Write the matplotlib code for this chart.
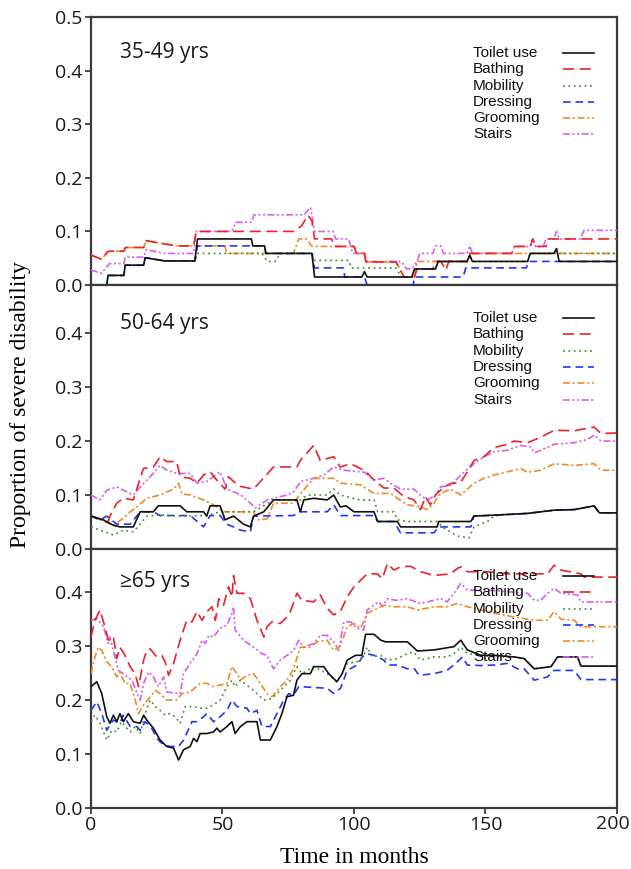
import numpy as np
import matplotlib
matplotlib.use('Agg')
import matplotlib.pyplot as plt

#########################
# DATA: (month, proportion)
#########################

# 35-49 yrs
toilet_35 = [(0,0),(6,0),(6.5,0.018),(12.5,0.018),(13,0.037),(20,0.037),(20.6,0.051),(28,0.045),(39.5,0.045),
             (40.5,0.086),(61,0.086),(61.5,0.073),(66,0.073),(66.5,0.059),(84,0.059),(85,0.015),(103,0.015),
             (104,0.025),(105,0.015),(122,0.015),(123,0.030),(131,0.030),(132,0.044),(143,0.044),(144,0.056),
             (145,0.044),(166,0.044),(167,0.059),(176,0.059),(177,0.068),(178,0.044),(200,0.044)]
bathing_35 = [(0,0.056),(4,0.048),(6.5,0.063),(12.5,0.063),(13,0.070),(20,0.070),(21,0.083),(25,0.079),(33,0.073),
              (39,0.073),(40,0.100),(77,0.100),(80,0.110),(82.5,0.130),(84,0.120),(85,0.086),(91.5,0.086),
              (92.5,0.072),(100,0.072),(101,0.059),(104,0.059),(104.5,0.043),(116,0.043),(119,0.015),(123,0.015),
              (124,0.030),(130,0.030),(131,0.044),(133,0.044),(135,0.028),(136,0.044),(143,0.044),(144,0.059),
              (160,0.059),(161,0.072),(167,0.072),(168,0.086),(169,0.072),(173,0.072),(174,0.086),(200,0.086)]
mobility_35 = [(0,0),(6,0),(6.5,0.018),(12.5,0.018),(13,0.037),(20,0.037),(20.6,0.051),(28,0.045),(39.5,0.045),
               (40.5,0.059),(65,0.059),(67,0.044),(70,0.044),(72,0.059),(84,0.059),(85,0.046),(98,0.046),
               (99,0.032),(116,0.032),(118,0.015),(122,0.015),(123,0.030),(131,0.030),(132,0.044),(143,0.044),
               (144,0.056),(145,0.044),(166,0.044),(167,0.059),(176,0.059),(177,0.068),(178,0.059),(200,0.059)]
dressing_35 = [(0,0),(6,0),(6.5,0.018),(12.5,0.018),(13,0.037),(20,0.037),(20.6,0.051),(28,0.045),(39.5,0.045),
               (40.5,0.073),(66,0.073),(66.5,0.059),(84,0.059),(85,0.032),(96,0.032),(96.5,0.015),(104,0.015),
               (105,0),(122.5,0),(123,0.015),(141.5,0.015),(142.5,0.032),(165.5,0.032),(166.5,0.044),(200,0.044)]
grooming_35 = [(0,0.056),(4,0.048),(6.5,0.063),(12.5,0.063),(13,0.070),(20,0.070),(21,0.083),(25,0.079),(33,0.073),
               (51,0.073),(51.5,0.059),(77,0.059),(79,0.086),(82,0.086),(84,0.072),(100,0.072),(101,0.059),
               (104,0.059),(104.5,0.043),(116,0.043),(119,0.015),(123,0.015),(124,0.044),(143,0.044),(145,0.059),
               (200,0.059)]
stairs_35 = [(0,0.028),(4,0.022),(7,0.040),(12.5,0.040),(13,0.052),(20,0.052),(21,0.066),(28,0.059),(39,0.059),
             (40,0.100),(53.5,0.100),(55,0.117),(61,0.117),(62,0.131),(81,0.131),(83.5,0.145),(85,0.100),(92,0.100),
             (93,0.086),(98,0.086),(99.5,0.059),(104,0.059),(105,0.044),(118,0.044),(120,0.030),(122,0.030),
             (124,0.044),(125,0.059),(130,0.059),(131,0.073),(133,0.073),(134,0.059),(143,0.059),(144,0.073),
             (145,0.059),(160,0.059),(161,0.072),(167,0.072),(168,0.086),(169,0.072),(172,0.072),(173,0.086),
             (176,0.086),(177,0.100),(178,0.086),(186,0.086),(187.5,0.102),(200,0.102)]

# 50-64 yrs
toilet_50 = [(0,0.061),(4.7,0.054),(8.5,0.044),(11,0.041),(16.1,0.041),(18.7,0.069),(23.7,0.069),(25.6,0.080),
             (33.9,0.080),(36.4,0.069),(42.8,0.069),(44,0.061),(45.3,0.080),(49.1,0.080),(51,0.054),(54.2,0.061),
             (58,0.046),(60.6,0.041),(61.8,0.061),(65.7,0.069),(69.4,0.091),(78.3,0.091),(79.6,0.069),(80.9,0.091),
             (84.7,0.094),(89.8,0.091),(92.3,0.100),(94.8,0.078),(97,0.080),(100,0.069),(107.6,0.069),(109,0.051),
             (116.5,0.051),(117.7,0.041),(131.6,0.041),(132.2,0.051),(144.4,0.051),(145.6,0.061),(158.3,0.064),
             (166,0.066),(176.1,0.072),(183.7,0.073),(191.3,0.080),(193.3,0.067),(200,0.067)]
bathing_50 = [(0,0.061),(4.7,0.054),(6.5,0.050),(7.2,0.061),(9.8,0.085),(12.3,0.094),(16.1,0.091),(19.9,0.149),
              (23.7,0.152),(26.3,0.171),(28.8,0.162),(32.6,0.162),(33.9,0.134),(37.7,0.131),(40.3,0.122),
              (42.8,0.137),(45.3,0.143),(47.8,0.128),(51,0.111),(52.3,0.134),(54.2,0.125),(56.8,0.116),(61.8,0.111),
              (69.4,0.152),(78.3,0.152),(79.6,0.164),(84.7,0.192),(87.2,0.164),(92.3,0.171),(94.8,0.152),
              (98.7,0.158),(102.5,0.149),(104,0.146),(107.6,0.128),(111.4,0.113),(115.2,0.113),(119,0.097),
              (122.8,0.091),(125.3,0.073),(127.2,0.097),(129,0.082),(131,0.100),(134.2,0.115),(136.7,0.121),
              (140.6,0.124),(143.1,0.143),(145.6,0.164),(149.4,0.171),(153.3,0.188),(158.3,0.194),(160.9,0.200),
              (166,0.197),(171,0.207),(176.1,0.220),(183.7,0.219),(191.3,0.226),(193.9,0.214),(200,0.215)]
mobility_50 = [(0,0.041),(3.4,0.035),(8.5,0.026),(12.3,0.035),(16.1,0.032),(18.7,0.046),(21.2,0.061),(26.3,0.063),
               (33.9,0.061),(44,0.062),(49.1,0.069),(61.8,0.069),(69.4,0.091),(79.6,0.091),(82.2,0.100),(89.8,0.100),
               (92.3,0.111),(94.8,0.100),(102.4,0.091),(107.6,0.091),(109,0.069),(115.2,0.069),(116.5,0.054),
               (120.3,0.051),(131.6,0.051),(134.2,0.039),(139.3,0.024),(143.8,0.021),(145.6,0.041),(150.7,0.051),
               (153.3,0.061),(158.3,0.064),(166,0.066),(176.1,0.072),(183.7,0.073),(191.3,0.080),(193.3,0.067),
               (200,0.067)]
dressing_50 = [(0,0.061),(3.4,0.054),(6,0.061),(9.8,0.046),(14.9,0.046),(17.4,0.061),(18.7,0.069),(23.7,0.069),
               (26.3,0.062),(36.4,0.062),(38,0.061),(42.8,0.041),(45.3,0.062),(49.1,0.062),(51.7,0.046),(54.2,0.041),
               (56.8,0.035),(60.6,0.032),(61.8,0.061),(77,0.062),(79.6,0.069),(89.8,0.069),(92.3,0.082),(94.8,0.062),
               (107.6,0.062),(109,0.051),(115.2,0.051),(117.7,0.030),(130.4,0.030),(132.2,0.041),(144.4,0.041),
               (145.6,0.061),(158.3,0.064),(166,0.066),(176.1,0.072),(183.7,0.073),(191.3,0.080),(193.3,0.067),
               (200,0.067)]
grooming_50 = [(0,0.061),(3.4,0.054),(8.5,0.044),(12.3,0.057),(14.9,0.069),(17.4,0.078),(21.2,0.094),(26.3,0.100),
               (31.4,0.111),(33.3,0.122),(34.6,0.102),(37.7,0.100),(42.8,0.091),(46.6,0.082),(50.4,0.069),
               (61.8,0.069),(63.5,0.054),(67,0.056),(69.4,0.085),(77,0.085),(79.7,0.103),(84.7,0.131),(92.3,0.131),
               (94.8,0.122),(102.5,0.119),(107.6,0.103),(113.9,0.103),(116.5,0.094),(120.3,0.082),(125.3,0.078),
               (127.9,0.073),(130.4,0.085),(132.9,0.103),(136.7,0.111),(140.6,0.100),(145.6,0.122),(149.4,0.131),
               (153.3,0.137),(158.3,0.143),(163.4,0.149),(166,0.142),(171,0.146),(176.1,0.158),(183.7,0.155),
               (191.3,0.158),(193.9,0.146),(200,0.146)]
stairs_50 = [(0,0.100),(3.4,0.091),(6,0.109),(9.8,0.115),(16.1,0.100),(18.7,0.115),(22.5,0.134),(26.3,0.155),
             (28.8,0.146),(32.6,0.140),(37.7,0.140),(40.3,0.122),(44,0.125),(49.1,0.143),(51.7,0.111),(56.8,0.101),
             (60.6,0.085),(62.5,0.076),(67,0.091),(74.5,0.100),(77,0.106),(79.7,0.125),(84.7,0.131),(88.5,0.137),
             (92.3,0.152),(96.1,0.146),(102.5,0.143),(104,0.142),(107.6,0.128),(111.4,0.131),(113.9,0.122),
             (117.7,0.111),(122.8,0.111),(125.3,0.100),(127.9,0.091),(131,0.100),(132.9,0.115),(136.7,0.118),
             (140.6,0.137),(145.6,0.158),(149.4,0.171),(153.3,0.180),(158.3,0.183),(163.4,0.192),(167.2,0.189),
             (168.5,0.178),(171,0.183),(176.1,0.194),(183.7,0.197),(188.8,0.203),(191.3,0.211),(193.9,0.200),
             (200,0.200)]

# 65 yrs and over
toilet_65 = [(0,0.225),(2.2,0.234),(4.1,0.212),(6,0.169),(7.2,0.157),(8.5,0.172),(9.8,0.160),(11,0.175),(12.3,0.160),
             (14.2,0.175),(16.1,0.160),(18.7,0.157),(20,0.172),(21.2,0.163),(23.7,0.148),(26.3,0.126),(28.8,0.114),
             (31.4,0.111),(33.3,0.089),(35.2,0.108),(37.7,0.114),(39,0.129),(40.3,0.123),(41.5,0.138),(44,0.138),
             (46.6,0.141),(47.9,0.148),(49.1,0.141),(51.7,0.151),(53.6,0.160),(54.8,0.138),(56.8,0.151),(59.3,0.160),
             (63.1,0.160),(64.4,0.126),(68.2,0.126),(70.7,0.151),(72.6,0.175),(74.5,0.206),(77,0.209),(78.3,0.237),
             (80.2,0.249),(83.4,0.249),(84.7,0.262),(88.5,0.262),(90.4,0.249),(93.5,0.234),(95.5,0.249),(97.4,0.274),
             (100.6,0.283),(103,0.283),(104.4,0.322),(107.6,0.322),(110.2,0.311),(112,0.308),(120.3,0.308),
             (124.1,0.291),(130.4,0.293),(135.4,0.297),(138,0.299),(140.6,0.311),(143.1,0.293),(148.2,0.283),
             (153.3,0.283),(160.9,0.280),(164.7,0.277),(168.5,0.258),(174.9,0.262),(177.4,0.280),(185,0.280),
             (186.3,0.263),(200,0.263)]
bathing_65 = [(0,0.317),(1.5,0.348),(3.4,0.367),(5.3,0.336),(6.6,0.311),(8.5,0.317),(9.8,0.277),(11,0.298),
              (12.9,0.283),(14.9,0.262),(16.8,0.249),(18.1,0.225),(20,0.274),(21.2,0.292),(22.5,0.295),(25,0.280),
              (26.9,0.283),(28.2,0.271),(29.5,0.246),(31.4,0.268),(33.9,0.311),(36.4,0.348),(38.4,0.345),
              (40.3,0.364),(42.2,0.348),(44.1,0.364),(46,0.373),(47.3,0.348),(48.6,0.388),(50.4,0.376),(52.3,0.410),
              (53.6,0.391),(54.2,0.431),(55.5,0.398),(58,0.398),(60.6,0.388),(63.1,0.348),(65.7,0.317),(66.9,0.336),
              (68.8,0.345),(72,0.342),(74.5,0.354),(75.8,0.364),(78.3,0.398),(80.2,0.385),(84.7,0.382),(87.2,0.395),
              (89.8,0.370),(92.3,0.358),(94.8,0.364),(97.4,0.391),(100,0.410),(102.5,0.422),(105,0.434),
              (108.8,0.434),(110.8,0.425),(112.7,0.453),(115.2,0.441),(117.7,0.447),(121.5,0.448),(125.3,0.438),
              (130.4,0.431),(136.7,0.434),(139.3,0.444),(140.6,0.447),(143.1,0.438),(150.7,0.438),(158.3,0.434),
              (173.6,0.434),(176.1,0.450),(178.7,0.441),(186.3,0.434),(187.5,0.428),(200,0.428)]
mobility_65 = [(0,0.160),(1.5,0.172),(3.4,0.157),(6,0.126),(7.9,0.144),(9.8,0.141),(11.6,0.160),(13.6,0.148),
               (14.9,0.141),(16.8,0.151),(18.7,0.138),(20.6,0.175),(22.5,0.200),(24.4,0.188),(26.3,0.181),
               (28.2,0.172),(30.1,0.175),(32,0.169),(33.9,0.157),(35.8,0.188),(39,0.188),(41.5,0.185),(44,0.185),
               (46.6,0.191),(49.1,0.200),(51.7,0.225),(53.6,0.237),(54.8,0.225),(56.8,0.237),(61.8,0.218),
               (65.7,0.200),(68.8,0.203),(72,0.218),(75.8,0.237),(78.3,0.262),(80.2,0.249),(84.7,0.262),(89.8,0.249),
               (93.5,0.234),(95.5,0.249),(97.4,0.268),(101.2,0.271),(103.7,0.283),(105,0.298),(107,0.280),
               (110.2,0.283),(112.7,0.274),(116.5,0.277),(120.3,0.286),(122.8,0.289),(125.3,0.274),(130.4,0.280),
               (135.4,0.280),(138,0.286),(140.6,0.298),(143.1,0.286),(148.2,0.283),(153.3,0.280),(160.9,0.280),
               (164.7,0.277),(168.5,0.258),(174.9,0.262),(177.4,0.280),(185,0.280),(186.3,0.263),(200,0.263)]
dressing_65 = [(0,0.181),(2.2,0.197),(4.1,0.175),(6,0.144),(7.2,0.154),(8.5,0.163),(11,0.157),(12.3,0.172),
               (14.9,0.151),(17.4,0.151),(18.7,0.144),(20.6,0.160),(23.1,0.148),(25,0.129),(27.6,0.117),(30.1,0.114),
               (33.3,0.114),(35.2,0.126),(38.4,0.160),(40.3,0.160),(42.8,0.169),(44,0.175),(46.6,0.160),(49.1,0.169),
               (51.7,0.181),(53.6,0.200),(55.5,0.188),(59.3,0.185),(60.6,0.175),(63.1,0.181),(65,0.151),(68.2,0.151),
               (70.7,0.175),(73.3,0.200),(75.2,0.212),(77,0.209),(79,0.225),(89.8,0.222),(92.3,0.212),(94.9,0.222),
               (97.4,0.255),(101.2,0.265),(103.2,0.280),(105,0.286),(107.6,0.283),(111.4,0.274),(112.7,0.265),
               (116.5,0.265),(120.3,0.258),(123,0.258),(124.7,0.246),(130.4,0.249),(135.4,0.255),(139.3,0.271),
               (141.2,0.280),(143.1,0.265),(148.2,0.264),(153.3,0.265),(158.3,0.268),(162.2,0.258),(164.7,0.258),
               (168.5,0.237),(173.6,0.243),(176.1,0.255),(183.7,0.255),(186.3,0.238),(200,0.238)]
grooming_65 = [(0,0.249),(1.5,0.280),(2.8,0.298),(4.1,0.292),(6,0.271),(7.9,0.262),(9.8,0.243),(11,0.252),
               (12.9,0.231),(14.9,0.231),(16.8,0.200),(18.1,0.175),(20,0.191),(22.5,0.206),(24.4,0.218),(26.3,0.212),
               (28.8,0.200),(32.6,0.200),(34.6,0.212),(37.7,0.215),(41.5,0.231),(44,0.231),(46.6,0.225),(51.7,0.231),
               (53.6,0.262),(55.5,0.249),(56.8,0.237),(59.3,0.246),(61.8,0.249),(64.4,0.231),(66.9,0.212),
               (68.8,0.206),(72,0.225),(74.5,0.237),(77,0.258),(79.6,0.298),(83.4,0.298),(86,0.308),(89.8,0.311),
               (92.3,0.292),(94.8,0.300),(97.4,0.336),(100,0.342),(102.5,0.333),(105,0.361),(107.6,0.367),
               (111.4,0.376),(115.2,0.373),(120.3,0.373),(124.1,0.367),(130.4,0.373),(135.4,0.373),(139.3,0.379),
               (143.1,0.373),(148.2,0.367),(153.3,0.361),(160.9,0.354),(168.5,0.348),(173.6,0.348),(176.1,0.364),
               (178.7,0.350),(183.7,0.348),(186.3,0.336),(200,0.336)]
stairs_65 = [(0,0.348),(2.2,0.351),(4.7,0.336),(6.6,0.305),(7.2,0.317),(8.5,0.292),(10.4,0.255),(12.3,0.249),
             (15.5,0.237),(18.1,0.206),(18.7,0.200),(20,0.231),(21.9,0.252),(23.7,0.243),(25.6,0.225),(27.6,0.243),
             (28.8,0.215),(33.9,0.212),(35.2,0.249),(37.7,0.268),(40.3,0.286),(42.2,0.311),(43.5,0.305),(44.8,0.320),
             (46.6,0.317),(49.1,0.333),(51.7,0.339),(53.6,0.361),(54.2,0.373),(54.8,0.330),(58,0.311),(61.8,0.298),
             (65,0.286),(66.9,0.283),(69.4,0.258),(72,0.274),(74.5,0.283),(77,0.292),(79,0.311),(80.9,0.298),
             (84.7,0.305),(87.2,0.320),(89.8,0.320),(92.3,0.308),(94.2,0.292),(96.1,0.345),(98.7,0.345),
             (101.2,0.333),(103.7,0.330),(105,0.367),(107.6,0.376),(109.5,0.382),(110.8,0.373),(112.7,0.388),
             (115.9,0.385),(120.3,0.388),(123.5,0.382),(125.3,0.379),(130.4,0.385),(133,0.388),(135.4,0.382),
             (138,0.398),(140.6,0.416),(143.1,0.404),(150.7,0.404),(158.3,0.401),(166,0.398),(168.5,0.385),
             (171,0.385),(173.6,0.398),(176.1,0.407),(178.7,0.398),(185,0.395),(186.3,0.382),(200,0.382)]

activities = ['Toilet use', 'Bathing', 'Mobility', 'Dressing', 'Grooming', 'Stairs']
age_groups = ['35-49 yrs', '50-64 yrs', '\u226565 yrs']
month_ticks = [0, 50, 100, 150, 200]
panel_data = [[toilet_35, bathing_35, mobility_35, dressing_35, grooming_35, stairs_35],
              [toilet_50, bathing_50, mobility_50, dressing_50, grooming_50, stairs_50],
              [toilet_65, bathing_65, mobility_65, dressing_65, grooming_65, stairs_65]]

#########################
# STYLE
#########################
plt.rcParams['lines.scale_dashes'] = False
colors = ['#111111', '#e8242a', '#3f8f2f', '#2038f5', '#f08a24', '#d65ff0']
styles = ['-', (0, (8, 4)), (0, (1.3, 2.6)), (0, (5.5, 3.5)), (0, (5, 2, 1.5, 2)), (0, (5, 1.8, 1.5, 1.8, 1.5, 1.8))]
edge = '#3a3a3a'
tick_font = {'family': 'Open Sans', 'size': 14, 'color': '#1a1a1a'}

# axes boxes in figure fractions (top to bottom), y upper limit per panel
boxes = [(0.1442, 0.6720, 0.8336, 0.3084),
         (0.1442, 0.3682, 0.8336, 0.3038),
         (0.1442, 0.0702, 0.8336, 0.2980)]
ytops = [0.5, 0.489, 0.48]
label_pos = [0.869, 0.856, 0.873]
legend_top = [0.866, 0.875, 0.896]

fig = plt.figure(figsize=(6.31, 8.69), dpi=100)

for p in range(3):
    ax = fig.add_axes(boxes[p])
    for k in range(6):
        pts = np.array(panel_data[p][k])
        ax.plot(pts[:, 0], pts[:, 1], color=colors[k], linestyle=styles[k], lw=1.2, zorder=3 + (5 - k) * 0.1)

    ax.set_xlim(0, 200)
    ax.set_ylim(0, ytops[p])
    ax.set_xticks(month_ticks)
    if p == 0:
        ax.set_yticks([0, 0.1, 0.2, 0.3, 0.4, 0.5])
    else:
        ax.set_yticks([0, 0.1, 0.2, 0.3, 0.4])
    ax.set_yticklabels(['%.1f' % v for v in ax.get_yticks()], fontdict=tick_font)
    if p == 2:
        # last month label is placed by hand a bit to the left so it stays on the page
        ax.set_xticklabels([str(m) for m in month_ticks[:-1]] + [''], fontdict=tick_font)
        ax.annotate(str(month_ticks[-1]), xy=(month_ticks[-1], 0), xycoords=('data', 'axes fraction'),
                    xytext=(-3, -4.9), textcoords='offset points', ha='center', va='top',
                    family='Open Sans', fontsize=14, color='#1a1a1a', annotation_clip=False)
    else:
        ax.set_xticklabels([])
    ax.tick_params(direction='out', length=4, width=1.3, color=edge, pad=2)
    for s in ax.spines.values():
        s.set_color(edge)
        s.set_linewidth(1.6)

    # age group label
    ax.text(0.055, label_pos[p], age_groups[p], transform=ax.transAxes, fontsize=15,
            family='Open Sans', va='center', ha='left', color='#1a1a1a')

    # legend drawn as text plus a short line sample
    h = boxes[p][3] * 869
    step = 16.3 / h
    for k in range(6):
        yy = legend_top[p] - k * step
        ax.text(0.726, yy, activities[k], transform=ax.transAxes, fontsize=11,
                family='Liberation Sans', va='center', ha='left', color='#111111', zorder=6)
        ax.plot([0.897, 0.956], [yy, yy], transform=ax.transAxes, color=colors[k],
                linestyle=styles[k], lw=1.2, zorder=6)

fig.text(0.032, 0.534, 'Proportion of severe disability', rotation=90, ha='center', va='center',
         family='Liberation Serif', fontsize=17)
fig.text(0.561, 0.013, 'Time in months', ha='center', va='center', family='Liberation Serif', fontsize=17)

plt.savefig('out.png', dpi=100)
